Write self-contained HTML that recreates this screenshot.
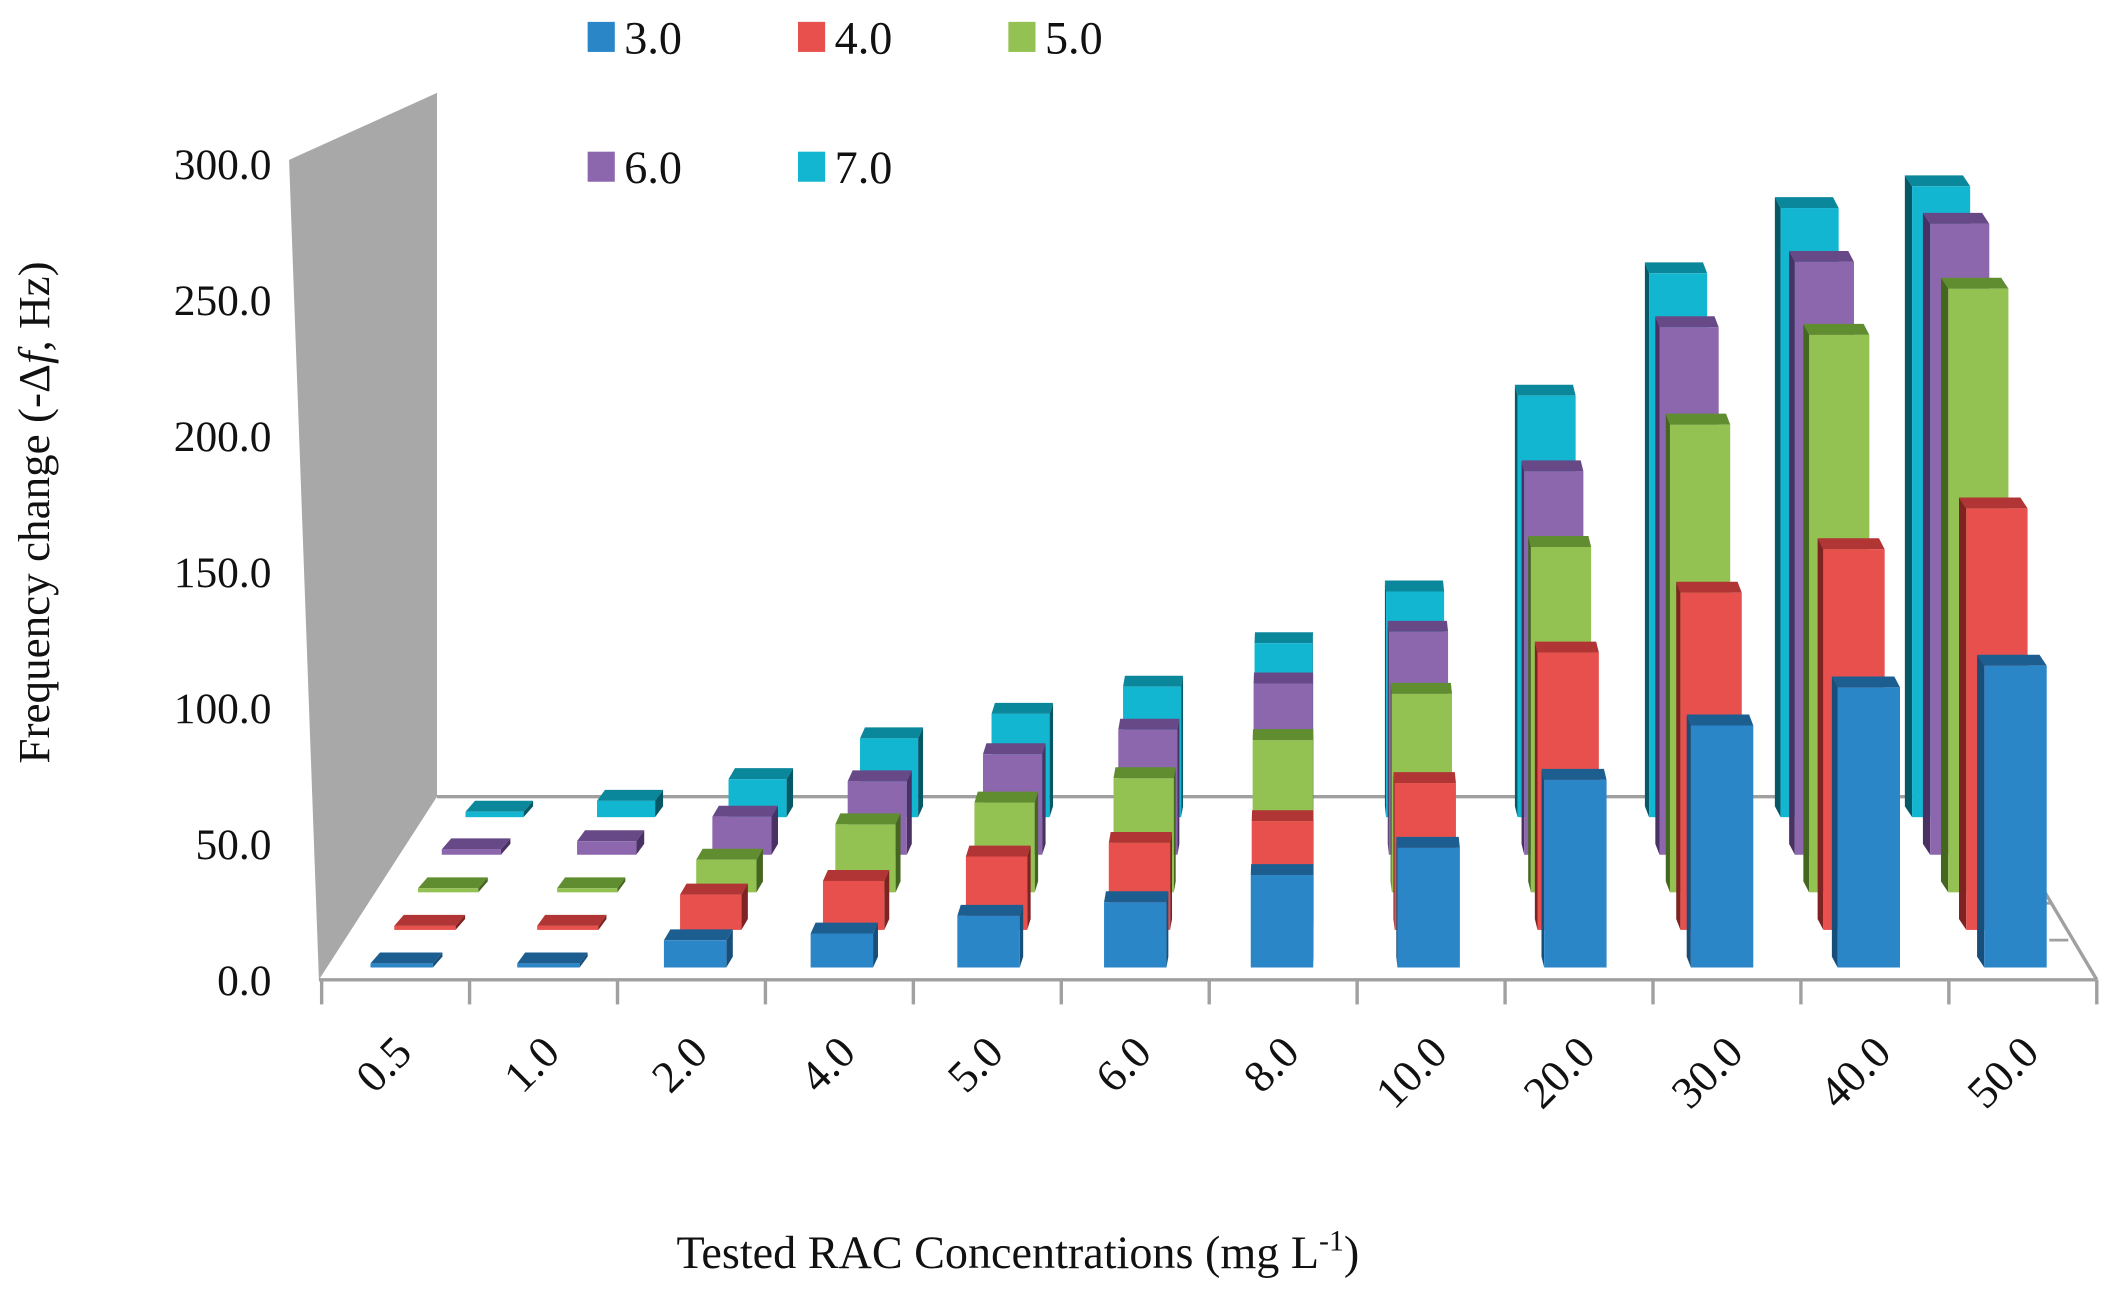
<!DOCTYPE html>
<html><head><meta charset="utf-8"><style>
html,body{margin:0;padding:0;background:#fff}
svg{display:block}
text{font-family:"Liberation Serif",serif;fill:#111}
</style></head><body>
<svg id="chart" width="2128" height="1290" viewBox="0 0 1568 944" preserveAspectRatio="none" xmlns="http://www.w3.org/2000/svg">
<polygon points="213,117 322,68 322,583 235,717" fill="#a8a8a8"/>
<g stroke="#a0a0a0" stroke-width="2.5" fill="none">
<line x1="322" y1="583" x2="1465" y2="583"/>
<line x1="235" y1="717" x2="1545" y2="717"/>
<line x1="1465" y1="583" x2="1545" y2="717"/>
</g>
<g id="xticks"></g>
<g id="bars"></g>
<g id="ylabels"></g>
<g id="xlabels"></g>
<text transform="translate(36,375) rotate(-90)" text-anchor="middle" font-size="33">Frequency change (-Δ<tspan font-style="italic">f</tspan>, Hz)</text>
<text x="750" y="928" text-anchor="middle" font-size="34">Tested RAC Concentrations (mg L<tspan dy="-13" font-size="22">-1</tspan><tspan dy="13">)</tspan></text>
<g id="legend"></g>
</svg>
<script>
const categories = ["0.5","1.0","2.0","4.0","5.0","6.0","8.0","10.0","20.0","30.0","40.0","50.0"];
const seriesNames = ["3.0","4.0","5.0","6.0","7.0"];
const s30 = [1.5,1.5,10,12.5,19,24,34,44,69,89,103,111];
const s40 = [1.5,1.5,13,18,27,32,40,54,102,124,140,155];
const s50 = [1.5,1.5,12,25,33,42,56,73,127,172,205,222];
const s60 = [2,5,14,27,37,46,63,82,141,194,218,232];
const s70 = [2,6,14,29,38,48,64,83,155,200,224,232];
const yTicks = ["0.0","50.0","100.0","150.0","200.0","250.0","300.0"];
const series = [s30,s40,s50,s60,s70];
const colors = [
 {f:"#2b86c8",t:"#1d5e91",s:"#184f7a"},
 {f:"#e8504d",t:"#b03534",s:"#7e2222"},
 {f:"#93c253",t:"#5f8d30",s:"#45661f"},
 {f:"#8d67ae",t:"#684987",s:"#4a3163"},
 {f:"#13b6d0",t:"#0b879c",s:"#075866"}];
const NS="http://www.w3.org/2000/svg";
function el(tag,attrs,parent){const e=document.createElementNS(NS,tag);for(const k in attrs)e.setAttribute(k,attrs[k]);parent.appendChild(e);return e;}
const pxPerUnit=1.99;
function yScale(v){return v*pxPerUnit;}
function rowShift(ci){return 17.5-2.8*ci;}
function xPos(ci,si){return 273+108.1*ci+rowShift(ci)*si;}
function basePos(si){return 708-27.5*si;}
const barsG=document.getElementById('bars');
for(let si=series.length-1;si>=0;si--){
 for(let ci=0;ci<categories.length;ci++){
  const v=series[si][ci];
  const w=46-si*0.8;
  const x=xPos(ci,si), b=basePos(si), h=Math.max(yScale(v),2);
  const top=b-h;
  const dx=rowShift(ci)*0.4, dy=8;
  const g=el('g',{},barsG);
  
  
  if(dx>=0){el('polygon',{points:`${x+w},${top} ${x+w+dx},${top-dy} ${x+w+dx},${b-dy} ${x+w},${b}`,fill:colors[si].s},g);}
  else{el('polygon',{points:`${x},${top} ${x+dx},${top-dy} ${x+dx},${b-dy} ${x},${b}`,fill:colors[si].s},g);}
  el('polygon',{points:`${x},${top} ${x+dx},${top-dy} ${x+w+dx},${top-dy} ${x+w},${top}`,fill:colors[si].t},g);
  el('rect',{x:x,y:top,width:w,height:h,fill:colors[si].f},g);
 }
}
const xt=document.getElementById('xticks');
for(let i=0;i<=categories.length;i++){
 const x=237+109*i;
 const l=el('line',{x1:x,y1:717,x2:x,y2:735,stroke:'#a0a0a0','stroke-width':2.5},xt);
 
 
}
const dt=[[1462,580],[1474,607],[1486,634],[1498,661],[1510,688]];
dt.forEach(p=>{const l=el('line',{x1:p[0],y1:p[1],x2:p[0]+14,y2:p[1],stroke:'#a0a0a0','stroke-width':2},xt);
 
 });
const yl=document.getElementById('ylabels');
yTicks.forEach((t,i)=>{const e=el('text',{x:200,y:717-99.5*i+11,'text-anchor':'end','font-size':32},yl);e.textContent=t;
 
 });
const xl=document.getElementById('xlabels');
categories.forEach((c,i)=>{const cx=305+109*i, cy=772;
 const e=el('text',{transform:`translate(${cx},${cy}) rotate(-45)`,'text-anchor':'end','font-size':33},xl);e.textContent=c;
 
 });
const lg=document.getElementById('legend');
const lpos=[[433,27],[588,27],[743,27],[433,122],[588,122]];
seriesNames.forEach((n,i)=>{const g=el('g',{},lg);
 
 
 el('rect',{x:lpos[i][0],y:lpos[i][1]-11,width:20,height:22,fill:colors[i].f},g);
 const t=el('text',{x:lpos[i][0]+27,y:lpos[i][1]+12,'font-size':34},g);t.textContent=n;});
</script>
</body></html>
